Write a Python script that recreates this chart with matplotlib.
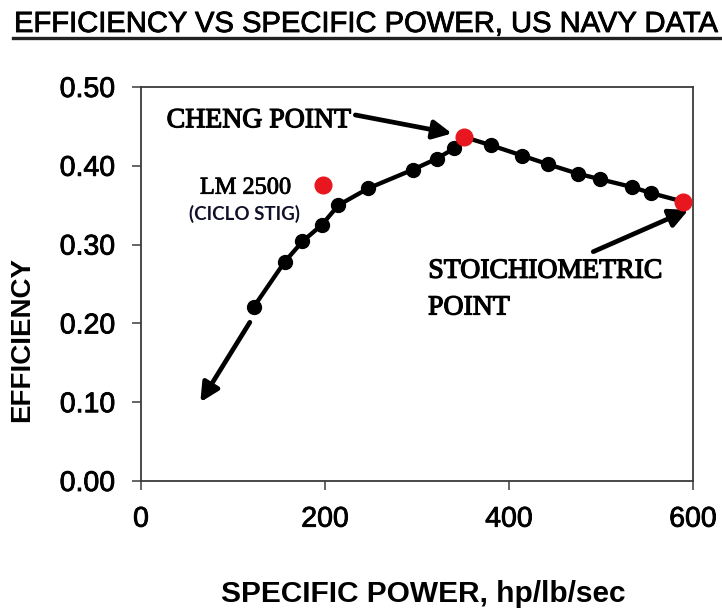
import matplotlib
matplotlib.use("Agg")
import matplotlib.pyplot as plt
import matplotlib.patheffects as pe
from matplotlib.lines import Line2D

# ---- data ----
power = [122.6, 156.1, 175.5, 196.5, 214.6, 247.2, 295.3, 321.4, 340.4, 351.4,
         380.6, 414.2, 442.2, 474.9, 498.9, 534.0, 554.0, 589.4]
efficiency = [0.221, 0.278, 0.304, 0.325, 0.350, 0.3715, 0.395, 0.409, 0.422, 0.4365,
              0.426, 0.413, 0.402, 0.390, 0.383, 0.373, 0.3655, 0.3545]
cheng_idx = 9
stoich_idx = 17
lm2500_power = [198.0]
lm2500_eff = [0.3762]
x_ticks = [0, 200, 400, 600]
x_tick_labels = ["0", "200", "400", "600"]
y_ticks = [0.0, 0.1, 0.2, 0.3, 0.4, 0.5]
y_tick_labels = ["0.00", "0.10", "0.20", "0.30", "0.40", "0.50"]

W, H = 722, 610
fig = plt.figure(figsize=(W / 100, H / 100), dpi=100)
ax = fig.add_axes([141 / W, 1 - 481 / H, 552 / W, 394 / H])

RED = "#e8161e"
FRAME = "#3a3a3a"

# curve
ax.plot(power, efficiency, color="black", lw=3.1, zorder=3, solid_capstyle="round")
black_x = [p for i, p in enumerate(power) if i not in (cheng_idx, stoich_idx)]
black_y = [e for i, e in enumerate(efficiency) if i not in (cheng_idx, stoich_idx)]
ax.plot(black_x, black_y, "o", color="black", ms=10, zorder=4)
ax.plot([power[cheng_idx], power[stoich_idx]], [efficiency[cheng_idx], efficiency[stoich_idx]],
        "o", color=RED, ms=12, zorder=5)
ax.plot(lm2500_power, lm2500_eff, "o", color=RED, ms=12, zorder=5)

arrow_kw = dict(arrowstyle="-|>", lw=3.4, color="black", mutation_scale=28,
                shrinkA=0, shrinkB=0)
ax.annotate("", xy=(64.5, 0.100), xytext=(118.3, 0.2014), arrowprops=arrow_kw, zorder=3)
ax.annotate("", xy=(338, 0.441), xytext=(233, 0.4645), arrowprops=arrow_kw, zorder=3)
ax.annotate("", xy=(595, 0.344), xytext=(491.6, 0.291), arrowprops=arrow_kw, zorder=3)

thick = [pe.withStroke(linewidth=0.9, foreground="black")]
mid = [pe.withStroke(linewidth=0.6, foreground="black")]
serif = "Liberation Serif"
ax.text(27.9, 0.4489, "CHENG POINT", family=serif, fontsize=20, va="baseline", ha="left",
        path_effects=thick)
ax.text(64.1, 0.3646, "LM 2500", family=serif, fontsize=17.5, va="baseline", ha="left",
        path_effects=mid)
ax.text(113, 0.3315, "(CICLO STIG)", family="Lato", fontweight="bold", fontsize=13.5,
        va="baseline", ha="center", color="#10102a")
ax.text(312.3, 0.2579, "STOICHIOMETRIC", family=serif, fontsize=20, va="baseline", ha="left",
        path_effects=thick)
ax.text(312.0, 0.2113, "POINT", family=serif, fontsize=20, va="baseline", ha="left",
        path_effects=thick)

ax.set_xlim(0, 600)
ax.set_ylim(0, 0.5)
ax.set_xticks(x_ticks)
ax.set_xticklabels(x_tick_labels)
ax.set_yticks(y_ticks)
ax.set_yticklabels(y_tick_labels)
ax.tick_params(axis="both", direction="out", length=6.5, width=1.1, color=FRAME,
               labelsize=20.5, pad=12)
for lab in ax.get_xticklabels() + ax.get_yticklabels():
    lab.set_family("Liberation Sans")
    lab.set_path_effects(mid)
for s in ax.spines.values():
    s.set_color(FRAME)
    s.set_linewidth(1.3)

# title with underline
fig.text(14 / W, 1 - 32 / H, "EFFICIENCY VS SPECIFIC POWER, US NAVY DATA",
         family="Liberation Sans", fontsize=21, va="baseline", ha="left", path_effects=mid)
fig.add_artist(Line2D([13 / W, 1.0], [1 - 37.5 / H, 1 - 37.5 / H], transform=fig.transFigure,
                      color="#222222", lw=2.4))

# axis labels
fig.text(21.7 / W, 1 - 340 / H, "EFFICIENCY", family="Liberation Sans", fontweight="bold",
         fontsize=20, rotation=90, va="center", ha="center")
fig.text(423 / W, 1 - 601.7 / H, "SPECIFIC POWER, hp/lb/sec", family="Liberation Sans",
         fontweight="bold", fontsize=21.5, va="baseline", ha="center")

fig.savefig("out.png", dpi=100)
